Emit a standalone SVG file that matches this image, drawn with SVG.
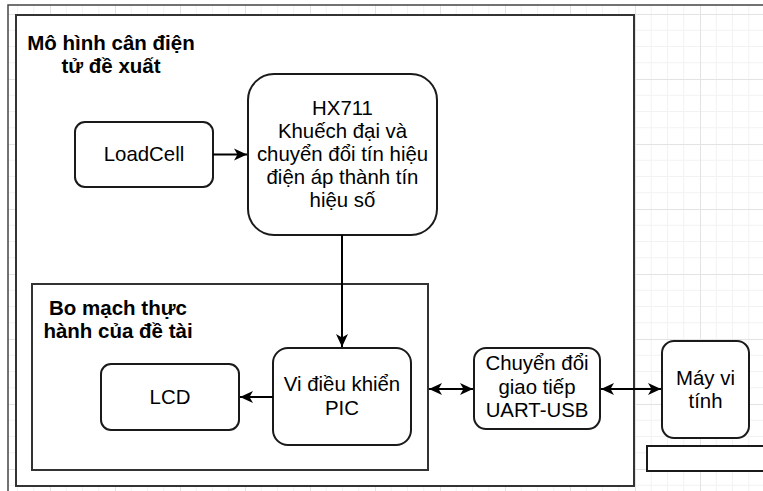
<svg xmlns="http://www.w3.org/2000/svg" width="763" height="491" viewBox="0 0 763 491">
<defs>
<pattern id="grid" patternUnits="userSpaceOnUse" x="50" y="14" width="65" height="65">
<path d="M16.25,0V65M32.5,0V65M48.75,0V65M0,16.25H65M0,32.5H65M0,48.75H65" stroke="#f2f2f2" stroke-width="1" fill="none"/>
<path d="M0.5,0V65M0,0.5H65" stroke="#e3e3e3" stroke-width="1" fill="none"/>
</pattern>
<marker id="arr" markerUnits="userSpaceOnUse" markerWidth="14" markerHeight="13" refX="13" refY="6" orient="auto-start-reverse" viewBox="0 0 14 12">
<path d="M0,0 L13,6 L0,12 L3.5,6 z" fill="#000"/>
</marker>
<style>
.box{fill:#fff;stroke:#1a1a1a;stroke-width:2}
.frame{fill:#fff;stroke:#333;stroke-width:2}
.t{font-family:"Liberation Sans",Arial,sans-serif;font-size:20.4px;fill:#000;text-anchor:middle}
.b{font-family:"Liberation Sans",Arial,sans-serif;font-size:20.5px;font-weight:bold;fill:#000;text-anchor:middle}
.c{fill:none;stroke:#000;stroke-width:2}
</style>
</defs>
<rect x="0" y="0" width="763" height="491" fill="#fff"/>
<rect x="8" y="5" width="755" height="486" fill="url(#grid)"/>
<path d="M8,491V5H763" fill="none" stroke="#444" stroke-width="1.5"/>

<g id="frame-main">
<rect class="frame" x="16" y="15" width="618" height="471"/>
<text class="b" x="111" y="50">Mô hình cân điện</text>
<text class="b" x="111" y="73">tử đề xuất</text>
</g>
<g id="frame-board">
<rect class="frame" x="32" y="284" width="396" height="186"/>
<text class="b" x="118" y="315">Bo mạch thực</text>
<text class="b" x="118" y="338">hành của đề tài</text>
</g>
<g id="loadcell">
<rect class="box" x="75" y="122" width="138" height="65" rx="10"/>
<text class="t" x="144" y="161">LoadCell</text>
</g>
<g id="hx711">
<rect class="box" x="248" y="74" width="189" height="161" rx="26"/>
<text class="t" x="342.5" y="115">HX711</text>
<text class="t" x="342.5" y="138">Khuếch đại và</text>
<text class="t" x="342.5" y="161">chuyển đổi tín hiệu</text>
<text class="t" x="342.5" y="184">điện áp thành tín</text>
<text class="t" x="342.5" y="207">hiệu số</text>
</g>
<g id="pic">
<rect class="box" x="273" y="348" width="138" height="97" rx="15"/>
<text class="t" x="342" y="391">Vi điều khiển</text>
<text class="t" x="342" y="415">PIC</text>
</g>
<g id="lcd">
<rect class="box" x="101" y="364" width="138" height="66" rx="10"/>
<text class="t" x="170" y="404">LCD</text>
</g>
<g id="uart-usb">
<rect class="box" x="474" y="348" width="126" height="81" rx="12"/>
<text class="t" x="537" y="370">Chuyển đổi</text>
<text class="t" x="537" y="394">giao tiếp</text>
<text class="t" x="537" y="417">UART-USB</text>
</g>
<g id="pc">
<rect class="box" x="662" y="341" width="87" height="97" rx="12"/>
<text class="t" x="705.5" y="385">Máy vi</text>
<text class="t" x="705.5" y="408">tính</text>
</g>
<g id="pc-base">
<rect class="box" x="647" y="446" width="130" height="25"/>
</g>
<g id="connectors">
<line class="c" x1="213" y1="154.5" x2="247" y2="154.5" marker-end="url(#arr)"/>
<line class="c" x1="342" y1="235" x2="342" y2="347" marker-end="url(#arr)"/>
<line class="c" x1="273" y1="397" x2="240" y2="397" marker-end="url(#arr)"/>
<line class="c" x1="429" y1="389" x2="473" y2="389" marker-start="url(#arr)" marker-end="url(#arr)"/>
<line class="c" x1="601" y1="389" x2="661" y2="389" marker-start="url(#arr)" marker-end="url(#arr)"/>
</g>
</svg>
